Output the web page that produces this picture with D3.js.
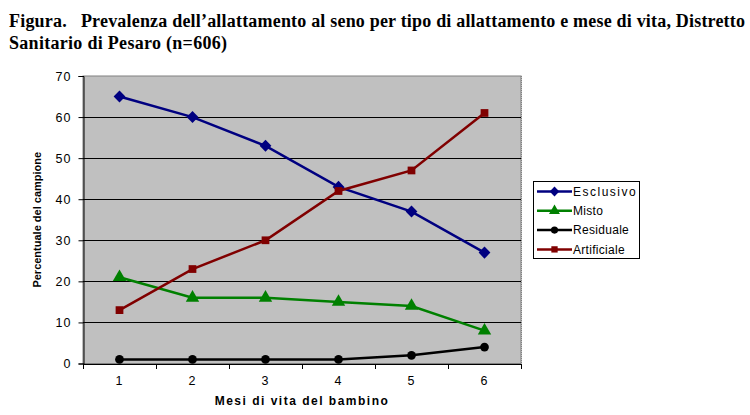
<!DOCTYPE html>
<html><head><meta charset="utf-8">
<script src="https://cdn.jsdelivr.net/npm/d3@7"></script>
<style>body{margin:0;background:#fff}svg{display:block}</style>
</head><body><svg id="c" width="750" height="415"></svg>
<script>
const months = ["1","2","3","4","5","6"];
const esclusivo = [65, 60, 53, 43, 37, 27];
const misto = [21, 16, 16, 15, 14, 8];
const residuale = [1, 1, 1, 1, 2, 4];
const artificiale = [13, 23, 30, 42, 47, 61];
const yTicks = [0,10,20,30,40,50,60,70];
const seriesNames = ["Esclusivo","Misto","Residuale","Artificiale"];
const seriesColors = ["#000080","#008000","#000000","#800000"];
const seriesShapes = ["diamond","triangle","circle","square"];
const seriesData = [esclusivo, misto, residuale, artificiale];

const svg = d3.select("#c");
const L = 83, R = 521, T = 76, B = 363.5;

// title
const title = svg.append("g").attr("font-family","'Liberation Serif','Times New Roman',serif")
  .attr("font-weight","bold").attr("font-size","18px").attr("fill","#000");
title.append("text").attr("x",9).attr("y",27).attr("xml:space","preserve")
  .attr("textLength",736).attr("lengthAdjust","spacing")
  .text("Figura.   Prevalenza dell\u2019allattamento al seno per tipo di allattamento e mese di vita, Distretto");
title.append("text").attr("x",9).attr("y",49).attr("textLength",218).attr("lengthAdjust","spacing")
  .text("Sanitario di Pesaro (n=606)");

const x = d3.scaleBand().domain(months).range([L, R]);
const y = d3.scaleLinear().domain([0,70]).range([B, T]);

// plot area
svg.append("rect").attr("x",L).attr("y",T).attr("width",R-L).attr("height",B-T)
  .attr("fill","#c0c0c0").attr("stroke","#808080").attr("stroke-width",1);
// gridlines
svg.append("g").selectAll("line").data(yTicks.filter(d=>d>0 && d<70)).join("line")
  .attr("x1",L).attr("x2",R).attr("y1",d=>Math.round(y(d))+0.5).attr("y2",d=>Math.round(y(d))+0.5)
  .attr("stroke","#000").attr("stroke-width",1);
svg.append("line").attr("x1",R+0.5).attr("x2",R+0.5).attr("y1",T).attr("y2",B)
  .attr("stroke","#808080").attr("stroke-dasharray","1,1");

// axes
const yAxis = d3.axisLeft(y).tickValues(yTicks).tickSize(5).tickPadding(7);
const gy = svg.append("g").attr("transform",`translate(${L+0.5},0)`).call(yAxis);
const xAxis = d3.axisBottom(x).tickSize(0).tickPadding(12);
const gx = svg.append("g").attr("transform",`translate(0,${B+0.5})`).call(xAxis);
const bounds = months.map(m=>x(m)).concat([R]);
gx.selectAll("line.bt").data(bounds).join("line").attr("class","bt")
  .attr("x1",d=>Math.round(d)+0.5).attr("x2",d=>Math.round(d)+0.5).attr("y1",0).attr("y2",5).attr("stroke","#000");
[gx,gy].forEach(g=>{
  g.select(".domain").attr("stroke","#000");
  g.selectAll(".tick line").attr("stroke","#000");
  g.selectAll("text").attr("font-family","'Liberation Sans',Arial,sans-serif").attr("font-size","12.5px")
    .attr("letter-spacing","1px").attr("fill","#000");
});
gy.selectAll("text").attr("dy","0.35em");

// axis titles
svg.append("text").attr("x",(L+R)/2).attr("y",405).attr("text-anchor","middle")
  .attr("font-family","'Liberation Sans',Arial,sans-serif").attr("font-weight","bold").attr("font-size","12px")
  .attr("letter-spacing","1.5px").text("Mesi di vita del bambino");
svg.append("text").attr("transform",`translate(41,${(T+B)/2}) rotate(-90)`).attr("text-anchor","middle")
  .attr("font-family","'Liberation Sans',Arial,sans-serif").attr("font-weight","bold").attr("font-size","11px")
  .text("Percentuale del campione");

// markers
function marker(g, shape, color, size){
  if(shape==="diamond") g.append("path").attr("d",d3.symbol(d3.symbolDiamond, size*1.1)).attr("fill",color)
    .attr("transform","scale(1.35,0.8)");
  else if(shape==="triangle") g.append("path").attr("d",d3.symbol(d3.symbolTriangle, size*1.3)).attr("fill",color);
  else if(shape==="circle") g.append("path").attr("d",d3.symbol(d3.symbolCircle, size)).attr("fill",color);
  else g.append("path").attr("d",d3.symbol(d3.symbolSquare, size)).attr("fill",color);
}
const cx = m => x(m) + x.bandwidth()/2;
const line = d3.line().x((d,i)=>cx(months[i])).y(d=>y(d));
seriesData.forEach((arr,si)=>{
  const g = svg.append("g");
  g.append("path").datum(arr).attr("d",line).attr("fill","none")
    .attr("stroke",seriesColors[si]).attr("stroke-width",2.5);
  arr.forEach((v,i)=>{
    const mg = g.append("g").attr("transform",`translate(${cx(months[i])},${y(v)})`);
    marker(mg, seriesShapes[si], seriesColors[si], 60);
  });
});

// legend
const lg = svg.append("g");
lg.append("rect").attr("x",533.5).attr("y",181.5).attr("width",106).attr("height",77)
  .attr("fill","#fff").attr("stroke","#000").attr("stroke-width",1);
seriesNames.forEach((n,i)=>{
  const yy = 191.5 + i*19.3;
  lg.append("line").attr("x1",537).attr("x2",572).attr("y1",yy).attr("y2",yy)
    .attr("stroke",seriesColors[i]).attr("stroke-width",2.5);
  const mg = lg.append("g").attr("transform",`translate(554.5,${yy})`);
  marker(mg, seriesShapes[i], seriesColors[i], 40);
  lg.append("text").attr("x",573).attr("y",yy).attr("dy","0.35em")
    .attr("font-family","'Liberation Sans',Arial,sans-serif").attr("font-size","12px")
    .attr("letter-spacing", i===0?"1.5px":"0.3px")
    .text(n);
});
</script></body></html>
